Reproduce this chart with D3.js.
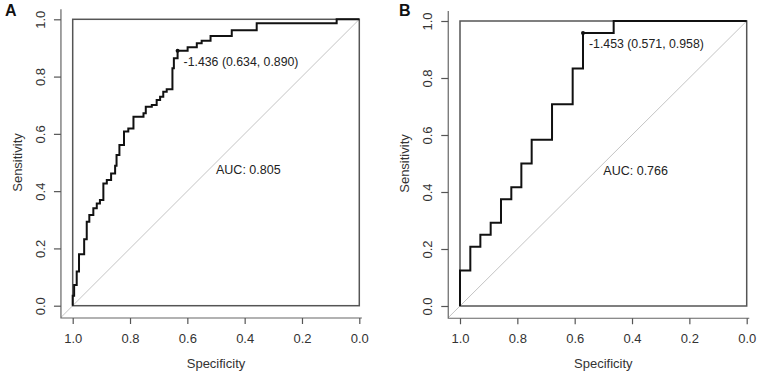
<!DOCTYPE html>
<html>
<head>
  <meta charset="utf-8">
  <style>
    body { margin: 0; background: #fff; }
    svg text { font-family: "Liberation Sans", Arial, sans-serif; }
  </style>
</head>
<body>
  <script src="https://cdn.jsdelivr.net/npm/d3@7"></script>
  <script>

    // panel A: ROC curve points (specificity, sensitivity)
    var specA = [1.000, 1.000, 0.995, 0.986, 0.978, 0.960, 0.951, 0.942, 0.928, 0.916,
                 0.905, 0.893, 0.881, 0.866, 0.852, 0.847, 0.837, 0.821, 0.806, 0.788,
                 0.753, 0.745, 0.724, 0.707, 0.695, 0.684, 0.672, 0.652, 0.647, 0.634,
                 0.599, 0.567, 0.550, 0.519, 0.445, 0.358, 0.079, 0.000];
    var sensA = [0.000, 0.035, 0.072, 0.119, 0.180, 0.232, 0.293, 0.317, 0.340, 0.357,
                 0.369, 0.427, 0.439, 0.462, 0.489, 0.526, 0.561, 0.608, 0.619, 0.660,
                 0.672, 0.695, 0.701, 0.718, 0.730, 0.747, 0.756, 0.829, 0.864, 0.890,
                 0.902, 0.916, 0.925, 0.942, 0.962, 0.986, 1.000, 1.000];

    // panel B
    var specB = [1.000, 1.000, 0.964, 0.929, 0.893, 0.857, 0.821, 0.786, 0.750, 0.679,
                 0.607, 0.571, 0.464, 0.000];
    var sensB = [0.000, 0.125, 0.208, 0.250, 0.292, 0.375, 0.417, 0.500, 0.583, 0.708,
                 0.833, 0.958, 1.000, 1.000];

    var thrA = {cut: "-1.436", spec: 0.634, sens: 0.890};
    var thrB = {cut: "-1.453", spec: 0.571, sens: 0.958};
    var aucA = "0.805", aucB = "0.766";

    var tickValues = [1.0, 0.8, 0.6, 0.4, 0.2, 0.0];

    var svg = d3.select("body").append("svg")
        .attr("width", 766)
        .attr("height", 381);

    function drawPanel(p) {
      var x = d3.scaleLinear().domain([1, 0]).range([p.left, p.right]);
      var y = d3.scaleLinear().domain([0, 1]).range([p.bottom, p.top]);
      var g = svg.append("g");

      // extents of the plotting region (a bit beyond the unit box)
      var xMin = x(1.041), xMax = x(-0.009);
      var yMin = y(-0.043), yMax = y(1.035);

      // diagonal reference line
      g.append("line")
        .attr("x1", x(1.041)).attr("y1", y(-0.041))
        .attr("x2", x(0)).attr("y2", y(1))
        .attr("stroke", "#c4c4c4").attr("stroke-width", 1);

      // unit box
      g.append("rect")
        .attr("x", x(1)).attr("y", y(1))
        .attr("width", x(0) - x(1)).attr("height", y(0) - y(1))
        .attr("fill", "none").attr("stroke", "#555").attr("stroke-width", 1.5);

      // L-shaped axes lines
      g.append("path")
        .attr("d", "M" + xMin + "," + yMax + "V" + yMin + "H" + xMax)
        .attr("fill", "none").attr("stroke", "#666").attr("stroke-width", 1.2);

      var xAxis = g.append("g")
        .attr("transform", "translate(0," + yMin + ")")
        .call(d3.axisBottom(x).tickValues(tickValues).tickSize(6).tickPadding(10)
              .tickFormat(d3.format(".1f")));
      xAxis.select(".domain").remove();
      xAxis.selectAll("line").attr("stroke", "#555").attr("stroke-width", 1.2);
      xAxis.selectAll("text").attr("font-size", 13).attr("fill", "#333")
        .attr("font-family", "Liberation Sans, Arial, sans-serif");

      var yAxis = g.append("g")
        .attr("transform", "translate(" + xMin + ",0)")
        .call(d3.axisLeft(y).tickValues(tickValues).tickSize(7).tickPadding(0)
              .tickFormat(d3.format(".1f")));
      yAxis.select(".domain").remove();
      yAxis.selectAll("line").attr("stroke", "#555").attr("stroke-width", 1.2);
      yAxis.selectAll("text").remove();
      yAxis.selectAll(".tick").append("text")
        .attr("transform", "translate(" + (-21) + ",0) rotate(-90)")
        .attr("text-anchor", "middle")
        .attr("dy", "0.35em")
        .attr("font-size", 13).attr("fill", "#333")
        .text(d3.format(".1f"));

      // axis titles
      g.append("text")
        .attr("x", (x(1) + x(0)) / 2).attr("y", 363)
        .attr("dy", "0.35em")
        .attr("text-anchor", "middle")
        .attr("font-size", 13).attr("fill", "#333")
        .text("Specificity");

      g.append("text")
        .attr("transform", "translate(" + (xMin - 44) + "," + ((y(0) + y(1)) / 2) + ") rotate(-90)")
        .attr("dy", "0.35em")
        .attr("text-anchor", "middle")
        .attr("font-size", 13).attr("fill", "#333")
        .text("Sensitivity");

      // ROC curve
      var pts = p.spec.map(function(s, i) { return [s, p.sens[i]]; });
      var line = d3.line()
        .x(function(d) { return x(d[0]); })
        .y(function(d) { return y(d[1]); })
        .curve(d3.curveStepAfter);
      g.append("path")
        .attr("d", line(pts))
        .attr("fill", "none")
        .attr("stroke", "#111")
        .attr("stroke-width", 2)
        .attr("stroke-linejoin", "miter");

      // best threshold
      g.append("circle")
        .attr("cx", x(p.thr.spec)).attr("cy", y(p.thr.sens))
        .attr("r", 2).attr("fill", "#111");
      g.append("text")
        .attr("x", x(p.thr.spec) + 6).attr("y", y(p.thr.sens) + 10.5)
        .attr("dy", "0.35em")
        .attr("font-size", 12.3).attr("fill", "#222")
        .text(p.thr.cut + " (" + p.thr.spec.toFixed(3) + ", " + p.thr.sens.toFixed(3) + ")");

      // AUC
      g.append("text")
        .attr("x", x(0.5)).attr("y", y(0.5) + 7.5)
        .attr("dy", "0.35em")
        .attr("font-size", 12.5).attr("fill", "#222")
        .text("AUC: " + p.auc);

      // panel letter
      svg.append("text")
        .attr("x", p.letterX).attr("y", 16)
        .attr("font-size", 16).attr("font-weight", "bold").attr("fill", "#111")
        .text(p.letter);
    }

    drawPanel({left: 72.7, right: 359.3, top: 19.3, bottom: 305.7,
               spec: specA, sens: sensA, thr: thrA, auc: aucA, letter: "A", letterX: 5});
    drawPanel({left: 460, right: 746.7, top: 21, bottom: 306,
               spec: specB, sens: sensB, thr: thrB, auc: aucB, letter: "B", letterX: 399});

  </script>
</body>
</html>
